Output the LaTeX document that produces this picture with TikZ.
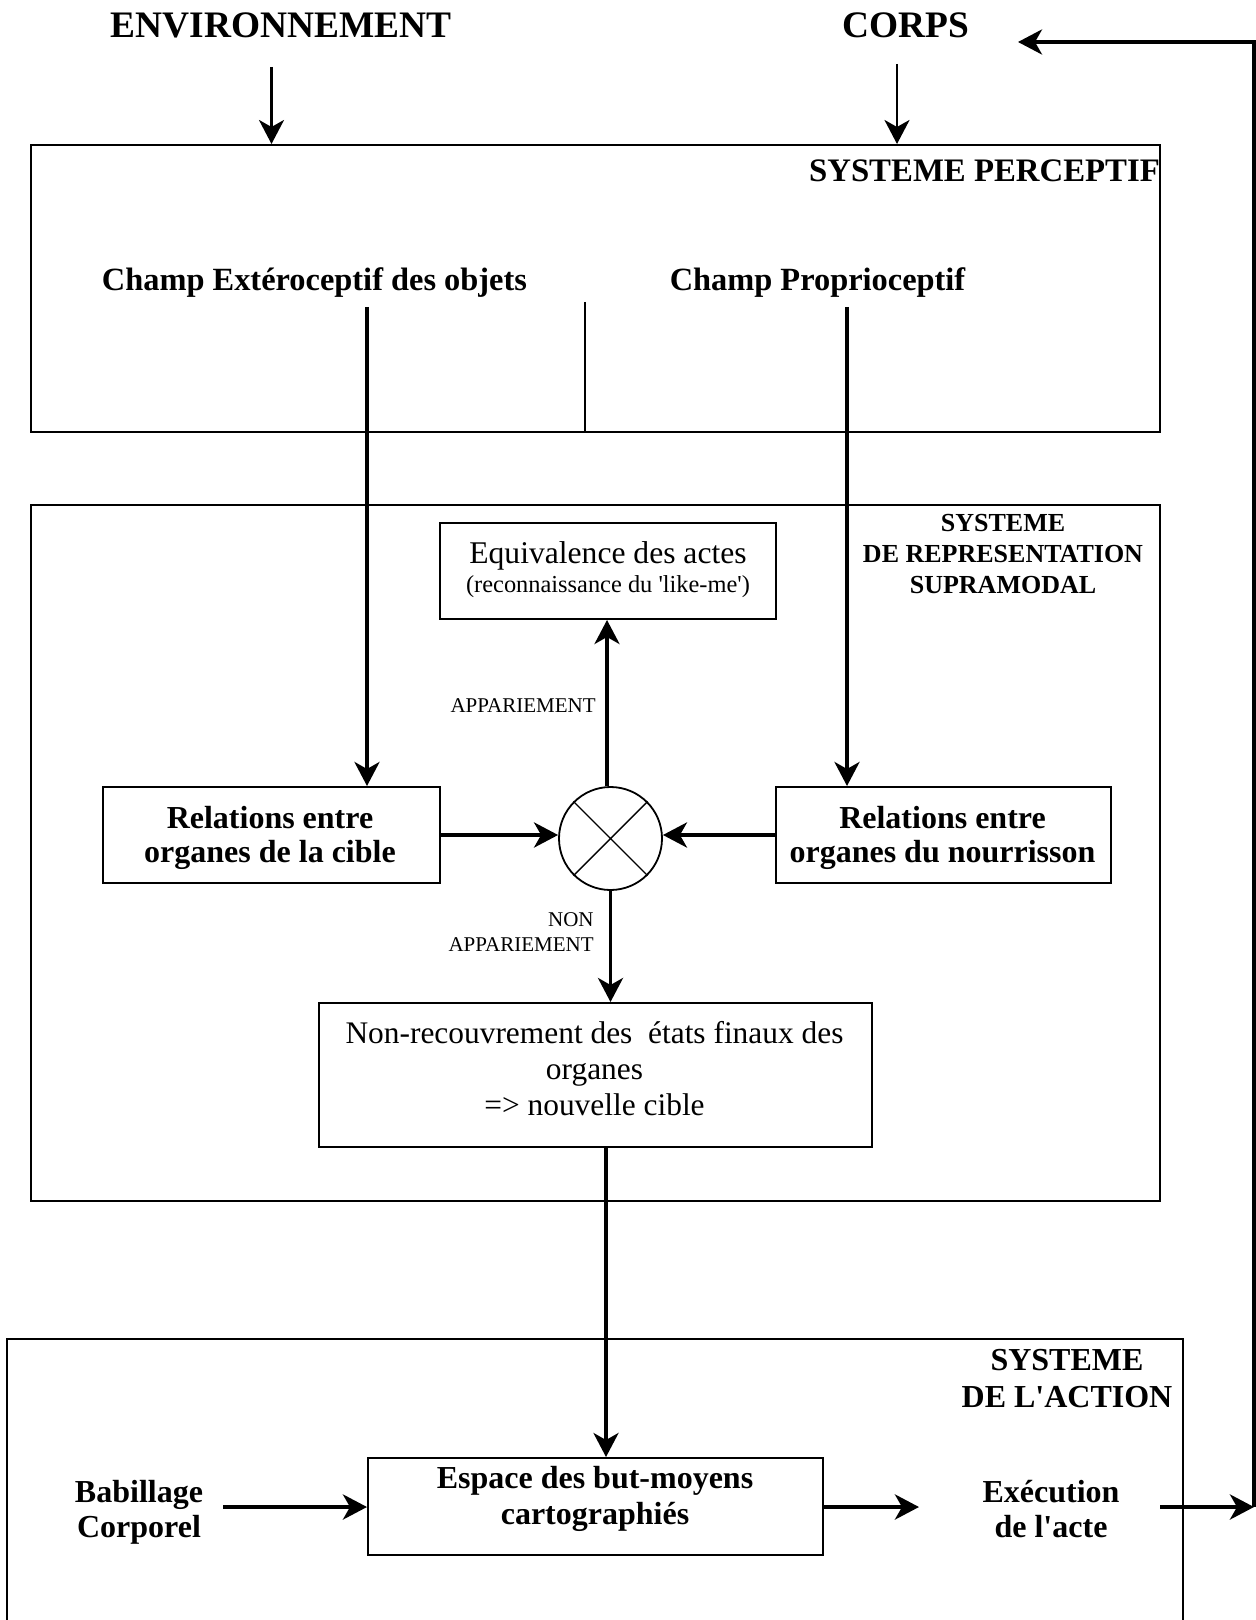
\documentclass[tikz,border=0pt]{standalone}
\usepackage{fontspec}
\setmainfont{Liberation Serif}
\usetikzlibrary{arrows.meta}
\begin{document}
\begin{tikzpicture}[x=0.5pt,y=-0.5pt,
  box/.style={draw, line width=1pt, inner sep=0pt, rectangle},
  lbl/.style={inner sep=0pt, align=center, anchor=base},
  bb/.style={font=\bfseries\fontsize{16}{17}\selectfont},
  tip/.style={-{Stealth[length=12pt,width=12.5pt,inset=3.5pt]}},
  thinarr/.style={tip, line width=1.4pt},
  arr/.style={tip, line width=1.85pt},
  harr/.style={tip, line width=2.3pt}]
\useasboundingbox (0,0) rectangle (1256,1620);

% boxes
\node[box, minimum width=564.5pt, minimum height=143.5pt] (percep) at (595.5,288.5) {};
\node[box, minimum width=564.5pt, minimum height=348pt] (supra) at (595.5,853) {};
\node[box, minimum width=588pt, minimum height=170.5pt] (action) at (595,1509.5) {};
\node[box, minimum width=168pt, minimum height=48pt] (equiv) at (608,571) {};
\node[box, minimum width=168.5pt, minimum height=48pt] (cible) at (271.5,835) {};
\node[box, minimum width=167.5pt, minimum height=48pt] (nour) at (943.5,835) {};
\node[box, minimum width=276.5pt, minimum height=72pt] (nonrec) at (595.5,1075) {};
\node[box, minimum width=227.5pt, minimum height=48.5pt] (espace) at (595.5,1506.5) {};
\node[draw, circle, line width=0.9pt, minimum size=51.5pt, inner sep=0pt] (cmp) at (610.5,838.5) {};
\draw[line width=0.7pt] (cmp.45) -- (cmp.225) (cmp.135) -- (cmp.315);

% texts (multi-line nodes are anchored at the baseline of their last line)
\node[lbl, font=\bfseries\fontsize{18.7}{22}\selectfont] (env) at (281,38) {ENVIRONNEMENT};
\node[lbl, font=\bfseries\fontsize{18.7}{22}\selectfont] (corps) at (906,38) {CORPS};
\node[lbl, font=\bfseries\fontsize{16.4}{19}\selectfont] (percepT) at (984.5,182) {SYSTEME PERCEPTIF};
\node[lbl, font=\bfseries\fontsize{16.2}{19}\selectfont] (champE) at (314.5,291) {Champ Extéroceptif des objets};
\node[lbl, font=\bfseries\fontsize{16.2}{19}\selectfont] (champP) at (817.5,291) {Champ Proprioceptif};
\node[lbl, font=\bfseries\fontsize{13}{15.3}\selectfont] (supraT) at (1003,593) {SYSTEME\\DE REPRESENTATION\\SUPRAMODAL};
\node[lbl, font=\fontsize{15.8}{14.5}\selectfont] (equivT) at (608,592) {Equivalence des actes\\{\fontsize{12.2}{14}\selectfont(reconnaissance du \textquotesingle like-me\textquotesingle)}};
\node[inner sep=0pt, anchor=base east, font=\fontsize{10.5}{12.5}\selectfont] (appT) at (596,712) {APPARIEMENT};
\node[inner sep=0pt, anchor=base east, align=right, font=\fontsize{10.5}{12.5}\selectfont] (nonappT) at (594,951) {NON\\APPARIEMENT};
\node[lbl, bb] (cibleT) at (270,862.5) {Relations entre\\organes de la cible};
\node[lbl, bb] (nourT) at (942.5,862.5) {Relations entre\\organes du nourrisson};
\node[lbl, font=\fontsize{15.7}{18}\selectfont] (nonrecT) at (594.5,1115) {Non-recouvrement des\ \ états finaux des\\organes\\=> nouvelle cible};
\node[lbl, font=\bfseries\fontsize{16}{18}\selectfont] (espaceT) at (595,1524) {Espace des but-moyens\\cartographiés};
\node[lbl, font=\bfseries\fontsize{16}{18.5}\selectfont] (actionT) at (1067,1407) {SYSTEME\\DE L\textquotesingle ACTION};
\node[lbl, font=\bfseries\fontsize{16}{17.5}\selectfont] (babT) at (139,1537) {Babillage\\Corporel};
\node[lbl, font=\bfseries\fontsize{16}{17.5}\selectfont] (execT) at (1051,1537) {Exécution\\de l\textquotesingle acte};

% connectors
\coordinate (envA) at (271.5,67);
\draw[thinarr] (envA) -- (envA |- percep.north);
\coordinate (corpsA) at (897,64);
\draw[thinarr] (corpsA) -- (corpsA |- percep.north);
\coordinate (eA) at (367,307);
\draw[arr] (eA) -- (eA |- cible.north);
\coordinate (pA) at (847,307);
\draw[arr] (pA) -- (pA |- nour.north);
\coordinate (div) at (585,302);
\draw[line width=0.75pt] (div) -- (div |- percep.south);
\coordinate (upX) at (607,0);
\draw[arr] (cmp.north -| upX) -- (equiv.south -| upX);
\draw[harr] (cible.east) -- (cmp.west |- cible.east);
\draw[harr] (nour.west) -- (cmp.east |- nour.west);
\draw[arr] (cmp.south) -- (cmp.south |- nonrec.north);
\coordinate (nrX) at (606,0);
\draw[arr] (nonrec.south -| nrX) -- (espace.north -| nrX);
\coordinate (babA) at (223,1507);
\draw[harr] (babA) -- (babA -| espace.west);
\coordinate (exA) at (919,1507);
\draw[harr] (espace.east |- exA) -- (exA);
\coordinate (exB) at (1160,1507);
\coordinate (fb1) at (1254,1507);
\coordinate (fb2) at (1254,42);
\coordinate (corpsB) at (1018,42);
\draw[harr] (exB) -- (fb1);
\draw[arr] (fb1) -- (fb2) -- (corpsB);
\end{tikzpicture}
\end{document}
